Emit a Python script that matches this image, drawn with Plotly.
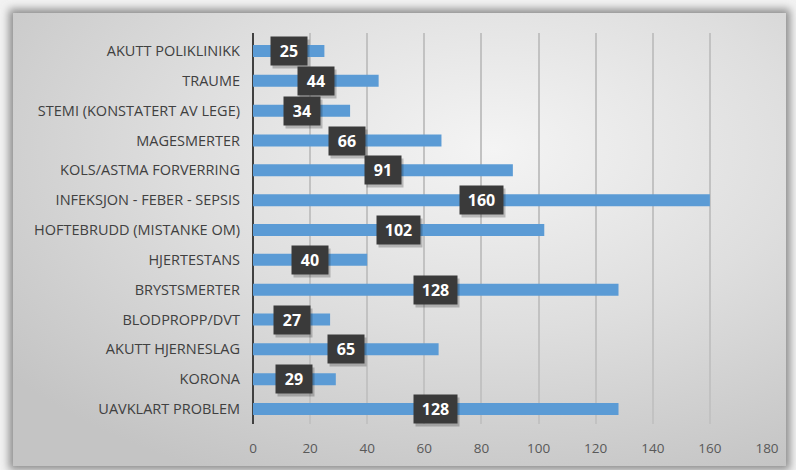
import base64
import plotly.graph_objects as go

# Data (top to bottom)
categories = [
    "AKUTT POLIKLINIKK",
    "TRAUME",
    "STEMI (KONSTATERT AV LEGE)",
    "MAGESMERTER",
    "KOLS/ASTMA FORVERRING",
    "INFEKSJON - FEBER - SEPSIS",
    "HOFTEBRUDD (MISTANKE OM)",
    "HJERTESTANS",
    "BRYSTSMERTER",
    "BLODPROPP/DVT",
    "AKUTT HJERNESLAG",
    "KORONA",
    "UAVKLART PROBLEM",
]
values = [25, 44, 34, 66, 91, 160, 102, 40, 128, 27, 65, 29, 128]
x_ticks = [0, 20, 40, 60, 80, 100, 120, 140, 160, 180]

W, H = 796, 470
ML, MR, MT, MB = 253, 29, 33, 46
PW, PH = W - ML - MR, H - MT - MB

# Background: light page, shadowed frame with radial gradient
svg = f"""<svg xmlns='http://www.w3.org/2000/svg' width='{W}' height='{H}' viewBox='0 0 {W} {H}'>
<defs>
<radialGradient id='g' cx='0.62' cy='0.3' r='0.8'>
<stop offset='0' stop-color='#f4f4f4'/>
<stop offset='0.5' stop-color='#dedede'/>
<stop offset='1' stop-color='#c4c4c4'/>
</radialGradient>
<filter id='b' x='-5%' y='-5%' width='110%' height='110%'><feGaussianBlur stdDeviation='4'/></filter>
</defs>
<rect width='{W}' height='{H}' fill='#f2f2f2'/>
<rect x='9' y='9' width='781' height='461' fill='#8c8c8c' filter='url(#b)'/>
<rect x='13' y='13' width='773' height='453' fill='url(#g)'/>
</svg>"""
bg_src = "data:image/svg+xml;base64," + base64.b64encode(svg.encode()).decode()

fig = go.Figure()
fig.add_trace(go.Bar(
    x=values,
    y=categories,
    orientation="h",
    marker=dict(color="#5b9bd5", line=dict(width=0)),
    width=0.4,
    hoverinfo="x+y",
))

# Dark value boxes at the middle of each bar, with a soft shadow
for cat, v in zip(categories, values):
    w = 34 if v < 100 else 41
    fig.add_annotation(
        x=v / 2, y=cat, text="", showarrow=False,
        width=w, height=26, bgcolor="rgba(0,0,0,0.22)",
        xshift=2, yshift=-3,
    )
    fig.add_annotation(
        x=v / 2, y=cat, text=f"<b>{v}</b>", showarrow=False,
        width=w, height=26, bgcolor="#3a3a3a",
        font=dict(family="Open Sans", size=16, color="white"),
    )

fig.add_layout_image(
    source=bg_src, xref="paper", yref="paper",
    x=-ML / PW, y=1 + MT / PH, sizex=W / PW, sizey=H / PH,
    sizing="stretch", xanchor="left", yanchor="top", layer="below",
)

fig.update_layout(
    width=W, height=H,
    margin=dict(l=ML, r=MR, t=MT, b=MB),
    paper_bgcolor="#f2f2f2",
    plot_bgcolor="rgba(0,0,0,0)",
    showlegend=False,
    font=dict(family="Open Sans", size=13, color="#404040"),
    xaxis=dict(
        range=[0, 180], tickvals=x_ticks, showgrid=True,
        gridcolor="#c2c2c2", gridwidth=1.5,
        zeroline=True, zerolinecolor="#404040", zerolinewidth=2,
        showline=False, ticks="", tickfont=dict(size=13.5, color="#595959"),
        ticklabelstandoff=14, fixedrange=True,
    ),
    yaxis=dict(
        autorange="reversed", showgrid=False, ticks="",
        tickfont=dict(size=14.5, color="#404040"),
        ticklabelstandoff=12, fixedrange=True,
    ),
)

# Remove the default page margin so the figure fills the window
fig.write_html(
    "out.html",
    config={"displayModeBar": False},
    post_script="document.body.style.margin='0';",
)
